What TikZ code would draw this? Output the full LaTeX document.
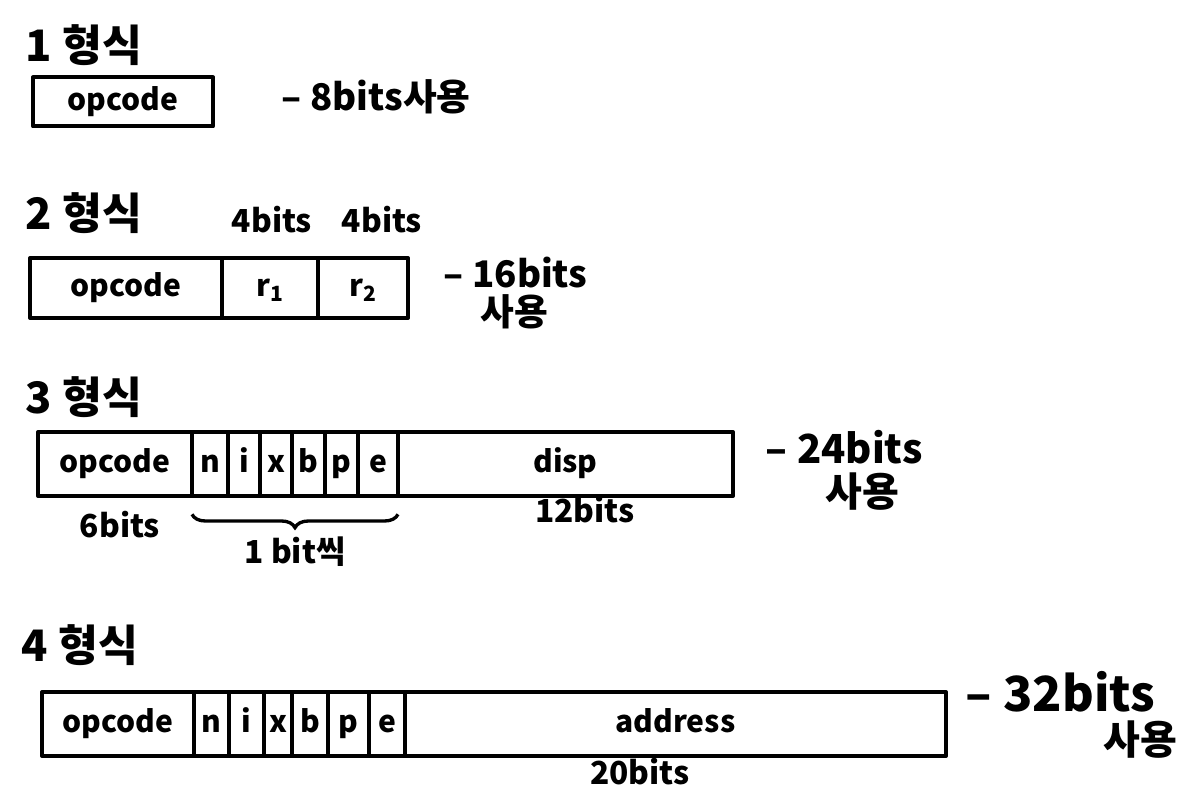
\documentclass[tikz,border=0pt]{standalone}
\usepackage{fontspec}
\setmainfont{Noto Sans CJK KR}
\usetikzlibrary{positioning,decorations.pathreplacing}
\tikzset{
  field/.style={draw, line width=2.4pt, line join=round, inner sep=0pt, outer sep=0pt,
    minimum height=38.4pt, anchor=west, text height=13pt, text depth=3pt,
    font=\fontsize{18}{20}\selectfont\bfseries},
  title/.style={anchor=west, font=\fontsize{26}{28}\selectfont\bfseries},
  note/.style={font=\fontsize{22}{24}\selectfont\bfseries},
  size/.style={font=\fontsize{19}{21}\selectfont\bfseries},
}
\begin{document}
\begin{tikzpicture}[x=0.6pt,y=-0.6pt]
  \useasboundingbox (0,0) rectangle (1200,800);
  % 1 형식
  \node[title] (t1) at (20,45) {1 형식};
  \node[field, minimum width=108pt, minimum height=29.4pt] (f1op) at (33,102) {opcode};
  \node[note, anchor=west] (f1use) at (276,97) {– 8bits사용};
  % 2 형식
  \node[title] (t2) at (20,213) {2 형식};
  \node[field, minimum width=115.2pt, minimum height=36pt] (f2op) at (30,288) {opcode};
  \node[field, minimum width=57.6pt, minimum height=36pt, right=0pt of f2op] (f2ra) {r\textsubscript{1}};
  \node[field, minimum width=54pt, minimum height=36pt, right=0pt of f2ra] (f2rb) {r\textsubscript{2}};
  \node[size] (f2sa) at (272,220) {4bits};
  \node[size] (f2sb) at (382,220) {4bits};
  \node[note, anchor=west] (f2use) at (438,273) {– 16bits};
  \node[note] (f2usb) at (514,312) {사용};
  % 3 형식
  \node[title] (t3) at (20,397) {3 형식};
  \node[field, minimum width=92.4pt] (f3op) at (38,464) {opcode};
  \node[field, minimum width=21.6pt, right=0pt of f3op] (f3n) {n};
  \node[field, minimum width=19.2pt, right=0pt of f3n] (f3i) {i};
  \node[field, minimum width=19.2pt, right=0pt of f3i] (f3x) {x};
  \node[field, minimum width=19.8pt, right=0pt of f3x] (f3b) {b};
  \node[field, minimum width=19.8pt, right=0pt of f3b] (f3p) {p};
  \node[field, minimum width=24pt, right=0pt of f3p] (f3e) {e};
  \node[field, minimum width=201pt, right=0pt of f3e] (f3disp) {disp};
  \node[size] (f3sop) at (120,525) {6bits};
  \node[size] (f3sdisp) at (585,510) {12bits};
  \draw[decorate, decoration={brace, mirror, amplitude=8pt}, line width=2pt]
    ([yshift=-11pt]f3n.south west) -- ([yshift=-11pt]f3e.south east)
    node[size, midway, below=9pt] (f3sbit) {1 bit씩};
  \node[note, anchor=west, font=\fontsize{24}{26}\selectfont\bfseries] (f3use) at (760,447) {– 24bits};
  \node[note, font=\fontsize{24}{26}\selectfont\bfseries] (f3usb) at (862,492) {사용};
  % 4 형식
  \node[title] (t4) at (16,645) {4 형식};
  \node[field, minimum width=91.2pt] (f4op) at (42,724) {opcode};
  \node[field, minimum width=21pt, right=0pt of f4op] (f4n) {n};
  \node[field, minimum width=21pt, right=0pt of f4n] (f4i) {i};
  \node[field, minimum width=16.8pt, right=0pt of f4i] (f4x) {x};
  \node[field, minimum width=21.6pt, right=0pt of f4x] (f4b) {b};
  \node[field, minimum width=24.6pt, right=0pt of f4b] (f4p) {p};
  \node[field, minimum width=21.6pt, right=0pt of f4p] (f4e) {e};
  \node[field, minimum width=324.6pt, right=0pt of f4e] (f4addr) {address};
  \node[size] (f4saddr) at (640,772) {20bits};
  \node[note, anchor=west, font=\fontsize{29}{31}\selectfont\bfseries] (f4use) at (960,692) {– 32bits};
  \node[note, font=\fontsize{24}{26}\selectfont\bfseries] (f4usb) at (1140,740) {사용};
\end{tikzpicture}
\end{document}
